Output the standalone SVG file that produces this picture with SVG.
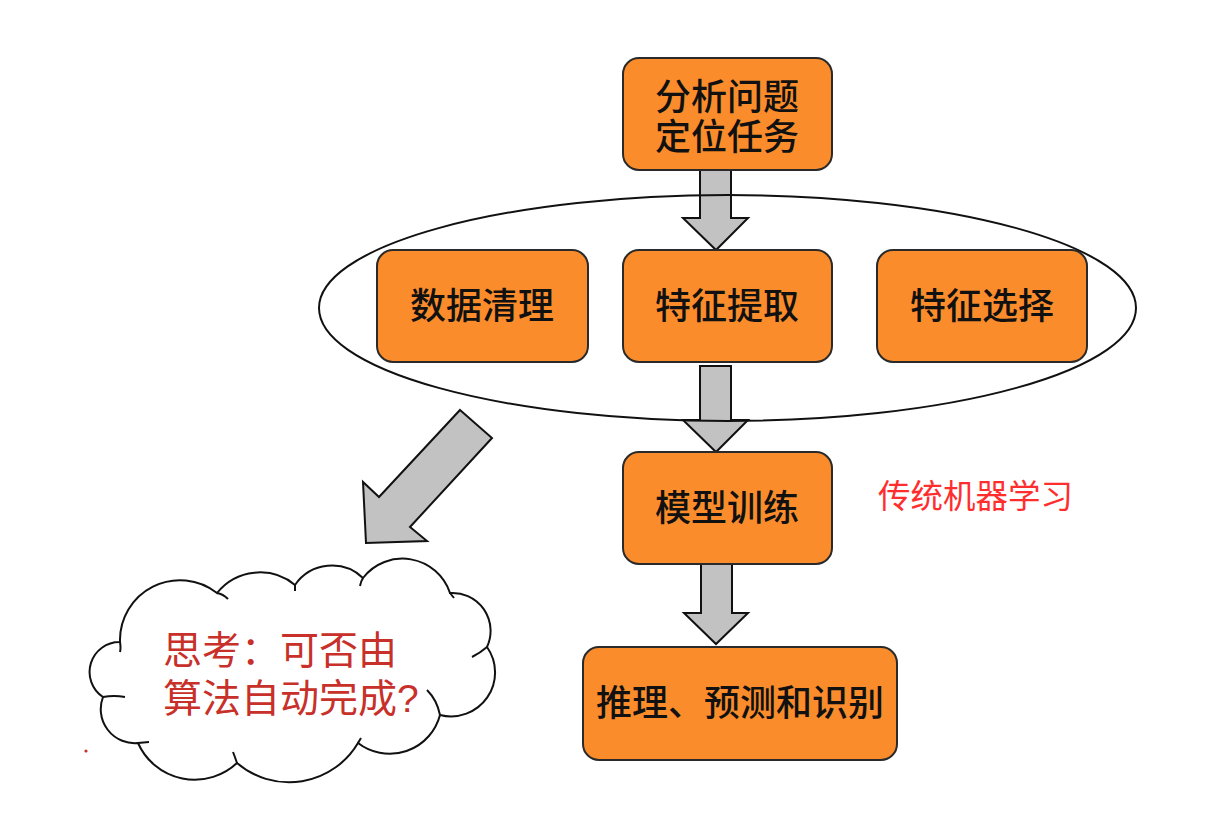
<svg xmlns="http://www.w3.org/2000/svg" width="1227" height="813" viewBox="0 0 1227 813">
<style>
.box{fill:#FA8C2C;stroke:#2a2a2a;stroke-width:2}
.t{font-family:"Liberation Sans","Noto Sans CJK SC",sans-serif;font-size:36px;font-weight:500;fill:#111;text-anchor:middle}
.arr{fill:#C2C2C2;stroke:#111;stroke-width:2;stroke-linejoin:miter}
.red{font-family:"Liberation Sans","Noto Sans CJK SC",sans-serif;fill:#FF2E2E}
.dred{font-family:"Liberation Sans","Noto Sans CJK SC",sans-serif;fill:#C8302A}
</style>
<rect width="1227" height="813" fill="#fff"/>
<g id="connectors">
  <polygon class="arr" points="700,170 731,170 731,218 748,218 716,250 683,218 700,218"/>
  <polygon class="arr" points="700,366 731,366 731,420 748,420 716,452 683,420 700,420"/>
  <polygon class="arr" points="701,564 732,564 732,613 748,613 716,644 684,613 701,613"/>
  <polygon class="arr" points="460,410 492,438 410,527 427,541 366,543 363,482 379,497"/>
</g>
<g id="n-analyze">
  <rect class="box" x="623" y="58" width="209" height="112" rx="16"/>
  <text class="t" x="727" y="110">分析问题</text>
  <text class="t" x="727" y="150">定位任务</text>
</g>
<g id="n-clean">
  <rect class="box" x="377" y="250" width="211" height="112" rx="16"/>
  <text class="t" x="482" y="319">数据清理</text>
</g>
<g id="n-extract">
  <rect class="box" x="623" y="250" width="209" height="112" rx="16"/>
  <text class="t" x="727" y="319">特征提取</text>
</g>
<g id="n-select">
  <rect class="box" x="877" y="250" width="210" height="112" rx="16"/>
  <text class="t" x="982" y="319">特征选择</text>
</g>
<g id="n-group">
  <ellipse cx="727.5" cy="308" rx="408.5" ry="113" fill="none" stroke="#111" stroke-width="2"/>
</g>
<g id="n-train">
  <rect class="box" x="623" y="452" width="209" height="112" rx="16"/>
  <text class="t" x="727" y="521">模型训练</text>
</g>
<g id="n-infer">
  <rect class="box" x="583" y="647" width="314" height="113" rx="16"/>
  <text class="t" x="740" y="716">推理、预测和识别</text>
</g>
<g id="n-label">
  <text class="red" x="878" y="508" font-size="32.5">传统机器学习</text>
</g>
<g id="n-cloud">
  <path d="M103,697 A30,30 0 0 1 120,642 A60,60 0 0 1 217,593 A55,55 0 0 1 295,585 A45,45 0 0 1 363,578 A50,50 0 0 1 450,593 A38,38 0 0 1 487,647 A44,44 0 0 1 440,715 A52,52 0 0 1 358,743 A80,80 0 0 1 237,763 A62,62 0 0 1 138,743 A34,34 0 0 1 103,697 Z" fill="#fff" stroke="#111" stroke-width="2"/>
  <path d="M103,697 Q114,695 125,697 M120,642 Q121,648 120,652 M217,593 Q223,594 228,599 M295,585 L295,591 M363,578 Q361,581 360,586 M450,593 L454,598 M487,647 Q480,653 472,657 M440,715 Q437,700 427,690 M358,743 L361,738 M237,763 Q235,757 233,752 M138,743 L149,742" fill="none" stroke="#111" stroke-width="2"/>
  <text class="dred" x="163" y="664" font-size="39">思考：可否由</text>
  <text class="dred" x="163" y="712" font-size="39">算法自动完成?</text>
  <circle cx="86" cy="751" r="1.6" fill="#C8302A"/>
</g>
</svg>
